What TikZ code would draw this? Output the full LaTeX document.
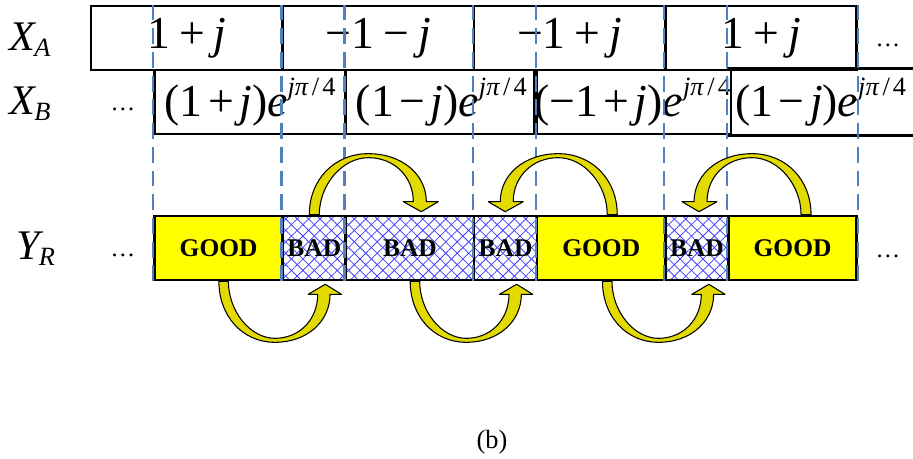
\documentclass[tikz,border=0pt]{standalone}
\usepackage{fontspec}
\setmainfont{Liberation Serif}
\usetikzlibrary{patterns.meta}
\definecolor{guideblue}{HTML}{4F81BD}
\definecolor{hatchblue}{HTML}{4040FF}
\definecolor{goodyellow}{HTML}{FFFF00}
\definecolor{arrowyellow}{HTML}{E2DA00}
\newcommand{\jj}{\textit{j}}
\newcommand{\bplus}{\hspace{0.2em}+\hspace{0.2em}}
\newcommand{\bminus}{\hspace{0.2em}−\hspace{0.2em}}
\newcommand{\tplus}{\hspace{0.12em}+\hspace{0.12em}}
\newcommand{\tminus}{\hspace{0.12em}−\hspace{0.12em}}
\newcommand{\ejpi}{\textit{e}\raisebox{0.45em}{\fontsize{15}{17}\selectfont\textit{j}\textit{π}\hspace{0.12em}/\hspace{0.12em}4}}
\newcommand{\rowname}[2]{{\itshape #1}\kern-0.02em\raisebox{-0.12em}{\fontsize{15}{17}\selectfont\itshape #2}}
\tikzset{
	cellnode/.style={
			draw=black,
			line width=1.5pt,
			minimum height=1.28cm,
			inner sep=0pt,
			font=\fontsize{26}{30}\selectfont
		},
	widenode/.style={
			cellnode,
			minimum width=3.826cm
		},
	goodnode/.style={
			cellnode,
			fill=goodyellow,
			minimum width=2.566cm,
			font=\fontsize{14.5}{16}\selectfont\bfseries
		},
	badnode/.style={
			cellnode,
			preaction={fill=white},
			preaction={pattern={Lines[angle=45,distance=4.6pt,line width=0.45pt]}, pattern color=hatchblue},
			preaction={pattern={Lines[angle=-45,distance=4.6pt,line width=0.45pt]}, pattern color=hatchblue},
			font=\fontsize{14.5}{16}\selectfont\bfseries
		},
	labelnode/.style={
			anchor=base west,
			inner sep=0pt,
			font=\fontsize{24}{28}\selectfont
		},
	dotsnode/.style={
			anchor=base,
			inner sep=0pt,
			font=\fontsize{14}{16}\selectfont
		},
	guideline/.style={
			draw=guideblue,
			line width=1.3pt,
			dash pattern=on 9pt off 4.5pt
		},
	arrowbody/.style={
			draw=black,
			line width=0.6pt,
			fill=arrowyellow,
			line join=round
		},
	turnarrow/.pic={
			\draw[arrowbody] (-5,0) .. controls (-5,-35) and (20,-61) .. (54,-61)
				.. controls (88,-61) and (112,-40) .. (112,-13)
				-- (124,-13) -- (107,-3) -- (89,-13) -- (99,-13)
				.. controls (99,-38) and (80,-57) .. (54,-57)
				.. controls (28,-57) and (5,-30) .. (5,0) -- cycle;
		}
}

\begin{document}
\begin{tikzpicture}[x=0.02cm, y=-0.02cm]
\useasboundingbox (0,0) rectangle (913,459);

% row labels
\node[labelnode] (lA) at (9,51) {\rowname{X}{A}};
\node[labelnode] (lB) at (9,115) {\rowname{X}{B}};
\node[labelnode] (lR) at (16,260) {\rowname{Y}{R}};

% X_A row
\node[cellnode, minimum width=3.836cm] (a0) at (186.9,38) {1\bplus\jj};
\node[widenode] (a1) at (378.45,38) {−1\bminus\jj};
\node[widenode] (a2) at (569.75,38) {−1\bplus\jj};
\node[widenode] (a3) at (761.05,38) {1\bplus\jj};
\node[dotsnode] (dA) at (888,47) {…};

% X_B row
\node[widenode] (b0) at (250.15,102) {(1\tplus\jj)\ejpi};
\node[widenode] (b1) at (441.45,102) {(1\tminus\jj)\ejpi};
\node[widenode] (b2) at (632.75,102) {(−1\tplus\jj)\ejpi};
\node[cellnode, draw=none, minimum width=3.69cm] (b3) at (820.7,102) {(1\tminus\jj)\ejpi};
\draw[line width=1.5pt] (b3.north west) -- (b3.north east);
\draw[line width=1.5pt] (b3.south west) -- (b3.south east);
\node[dotsnode] (dB) at (123,111) {…};

% Y_R row
\node[goodnode] (y0) at (218.65,248) {GOOD};
\node[badnode, minimum width=1.26cm] (y1) at (314.3,248) {BAD};
\node[badnode, minimum width=2.566cm] (y2) at (409.95,248) {BAD};
\node[badnode, minimum width=1.26cm] (y3) at (505.6,248) {BAD};
\node[goodnode] (y4) at (601.25,248) {GOOD};
\node[badnode, minimum width=1.26cm] (y5) at (696.9,248) {BAD};
\node[goodnode] (y6) at (792.55,248) {GOOD};
\node[dotsnode] (dL) at (123,256) {…};
\node[dotsnode] (dR) at (888,257) {…};

% dashed guides
\foreach \c in {y0.south west, y1.south west, y2.south west, y3.south west,
                y4.south west, y5.south west, y6.south west, y6.south east}
  \draw[guideline] (\c) -- (\c |- a0.north);

% swaps
\pic at (y1.north) {turnarrow};
\pic[xscale=-1] at ([xshift=0.22cm]y4.north) {turnarrow};
\pic[xscale=-1] at ([xshift=0.27cm]y6.north) {turnarrow};
\pic[yscale=-1, xscale=0.95] at ([xshift=0.1cm]y0.south) {turnarrow};
\pic[yscale=-1, xscale=0.95] at ([xshift=0.1cm]y2.south) {turnarrow};
\pic[yscale=-1, xscale=0.95] at ([xshift=0.12cm]y4.south) {turnarrow};

\node[font=\fontsize{15}{17}\selectfont] (cap) at (492,442) {(b)};
\end{tikzpicture}
\end{document}
